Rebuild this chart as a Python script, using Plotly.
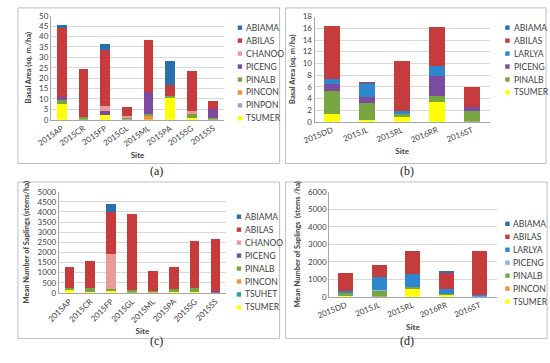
import plotly.graph_objects as go

W, H = 550, 363

# ---------------- (a) Basal area, sites 2015 ----------------
sites_a = ["2015AP", "2015CR", "2015FP", "2015GL", "2015ML", "2015PA", "2015SG", "2015SS"]
a_TSUMER = [7.7, 0, 2.2, 0, 0, 10.3, 0.8, 0]
a_PINPON = [0, 0, 0, 0, 0, 0, 0, 0]
a_PINCON = [0, 0, 0, 0, 1.8, 0, 0, 0]
a_PINALB = [1.6, 1.5, 0, 1.2, 1.2, 1.2, 1.8, 1.0]
a_PICENG = [1.4, 0, 2.0, 0, 10.5, 0, 0, 4.3]
a_CHANOO = [0, 0, 2.4, 0.5, 0, 0, 1.4, 0]
a_ABILAS = [33.8, 22.8, 26.9, 4.6, 25.0, 5.0, 19.5, 3.8]
a_ABIAMA = [0.8, 0, 3.0, 0, 0, 11.8, 0, 0]

# ---------------- (b) Basal area, other sites ----------------
sites_b = ["2015DD", "2015JL", "2015RL", "2016RR", "2016ST"]
b_TSUMER = [1.3, 0.3, 1.0, 3.3, 0]
b_PINALB = [3.9, 2.9, 0.3, 1.1, 1.8]
b_PICENG = [1.2, 1.1, 0, 3.4, 0.8]
b_LARLYA = [1.0, 2.3, 0.5, 1.8, 0]
b_ABILAS = [9.0, 0.15, 8.6, 6.6, 3.4]
b_ABIAMA = [0, 0.05, 0, 0, 0]

# ---------------- (c) Saplings, sites 2015 ----------------
c_TSUMER = [150, 30, 150, 0, 0, 40, 40, 0]
c_TSUHET = [0, 0, 0, 0, 0, 0, 0, 0]
c_PINCON = [0, 0, 0, 0, 80, 0, 0, 0]
c_PINALB = [100, 200, 30, 150, 20, 150, 200, 20]
c_PICENG = [0, 0, 0, 0, 0, 0, 0, 50]
c_CHANOO = [0, 0, 1720, 0, 0, 0, 0, 0]
c_ABILAS = [1030, 1320, 2100, 3750, 1000, 1080, 2330, 2610]
c_ABIAMA = [0, 0, 400, 0, 0, 0, 0, 0]

# ---------------- (d) Saplings, other sites ----------------
d_TSUMER = [30, 0, 480, 120, 0]
d_PINCON = [0, 0, 0, 0, 0]
d_PINALB = [250, 350, 50, 50, 0]
d_PICENG = [0, 50, 0, 0, 0]
d_LARLYA = [50, 700, 750, 280, 100]
d_ABILAS = [1020, 730, 1320, 930, 2520]
d_ABIAMA = [0, 0, 0, 50, 0]

COL = {
    "ABIAMA": "#2A6FAF", "ABILAS": "#C63B3B", "CHANOO": "#E99A9A",
    "PICENG": "#7A4B9E", "PINALB": "#77A641", "PINCON": "#F39237",
    "PINPON": "#A99BD6", "TSUMER": "#FFFF00", "LARLYA": "#2D86CE",
    "TSUHET": "#1BA3A6",
}
PICENG_D = "#8DB4DE"

FONT = "Lato, 'Open Sans', sans-serif"
TXT = "#404040"

fig = go.Figure()


def px_x(p):
    return p / W


def px_y(p):
    return 1 - p / H


panels = [
    # key, sites, series (bottom-up), xdomain px, ydomain px, ymax, dtick, ytitle, tickangle,
    # legend (square x, text x, first row y)
    ("a", sites_a,
     [("TSUMER", a_TSUMER), ("PINPON", a_PINPON), ("PINCON", a_PINCON), ("PINALB", a_PINALB),
      ("PICENG", a_PICENG), ("CHANOO", a_CHANOO), ("ABILAS", a_ABILAS), ("ABIAMA", a_ABIAMA)],
     (37, 215), (118, 11), 50, 5, "Basal Area (sq. m./ha)", -35, (229, 235, 23.3)),
    ("b", sites_b,
     [("TSUMER", b_TSUMER), ("PINALB", b_PINALB), ("PICENG", b_PICENG), ("LARLYA", b_LARLYA),
      ("ABILAS", b_ABILAS), ("ABIAMA", b_ABIAMA)],
     (308, 488), (120, 12), 18, 2, "Basal Area (sq. m/ha)", -22, (504, 511, 23.3)),
    ("c", sites_a,
     [("TSUMER", c_TSUMER), ("TSUHET", c_TSUHET), ("PINCON", c_PINCON), ("PINALB", c_PINALB),
      ("PICENG", c_PICENG), ("CHANOO", c_CHANOO), ("ABILAS", c_ABILAS), ("ABIAMA", c_ABIAMA)],
     (45, 217), (296, 192), 5000, 500, "Mean Number of Saplings (stems/ha)", -45, (228, 234, 217.7)),
    ("d", sites_b,
     [("TSUMER", d_TSUMER), ("PINCON", d_PINCON), ("PINALB", d_PINALB), ("PICENG", d_PICENG),
      ("LARLYA", d_LARLYA), ("ABILAS", d_ABILAS), ("ABIAMA", d_ABIAMA)],
     (323, 495), (300, 192), 6000, 1000, "Mean Number of Saplings  (stems /ha)", -22, (504, 510, 225)),
]

ROW = 13.33
SQ = 4.5

layout = {}
shapes = []
annotations = []
for i, (key, sites, series, xd, yd, ymax, dtick, ytitle, tangle, leg) in enumerate(panels):
    n = i + 1
    xa = "x" if n == 1 else f"x{n}"
    ya = "y" if n == 1 else f"y{n}"
    for name, vals in series:
        color = COL[name]
        if key == "d" and name == "PICENG":
            color = PICENG_D
        fig.add_trace(go.Bar(
            x=sites, y=vals, name=name, xaxis=xa, yaxis=ya, showlegend=False,
            marker=dict(color=color, line=dict(width=0)),
        ))
    # legend drawn as squares + text, top entry = last stacked series
    sqx, tx, y0 = leg
    for k, (name, _vals) in enumerate(reversed(series)):
        color = COL[name]
        if key == "d" and name == "PICENG":
            color = PICENG_D
        yy = y0 + k * ROW
        shapes.append(dict(type="rect", xref="paper", yref="paper",
                           x0=px_x(sqx), x1=px_x(sqx + SQ),
                           y0=px_y(yy + SQ / 2), y1=px_y(yy - SQ / 2),
                           line=dict(width=0), fillcolor=color))
        annotations.append(dict(text=name, x=px_x(tx), y=px_y(yy), xref="paper", yref="paper",
                                xanchor="left", yanchor="middle", showarrow=False,
                                font=dict(size=8.5, color=TXT, family=FONT)))
    xname = "xaxis" if n == 1 else f"xaxis{n}"
    yname = "yaxis" if n == 1 else f"yaxis{n}"
    layout[xname] = dict(
        domain=[px_x(xd[0]), px_x(xd[1])], anchor=ya,
        tickangle=tangle, tickfont=dict(size=8, color=TXT, family=FONT),
        title=dict(text="<b>Site</b>", font=dict(size=8, color=TXT, family=FONT), standoff=4),
        showline=True, linecolor="#A6A6A6", linewidth=1, ticks="", showgrid=False,
    )
    layout[yname] = dict(
        domain=[px_y(yd[0]), px_y(yd[1])], anchor=xa,
        range=[0, ymax], dtick=dtick,
        tickfont=dict(size=8, color=TXT, family=FONT),
        title=dict(text=f"<b>{ytitle}</b>", font=dict(size=7.5, color=TXT, family=FONT), standoff=6),
        showline=True, linecolor="#A6A6A6", linewidth=1,
        showgrid=True, gridcolor="#D9D9D9", gridwidth=1, zeroline=False, ticks="",
    )

boxes = [(3, 3, 272, 163), (278, 3, 546, 163), (3, 182, 272, 343), (278, 182, 547, 343)]
for (x0, y0, x1, y1) in boxes:
    shapes.append(dict(type="rect", xref="paper", yref="paper",
                       x0=px_x(x0), x1=px_x(x1), y0=px_y(y1), y1=px_y(y0),
                       line=dict(color="#BFBFBF", width=1), fillcolor="rgba(0,0,0,0)", layer="below"))

captions = [("(a)", 137, 171), ("(b)", 412, 171), ("(c)", 137, 355), ("(d)", 412, 355)]
for t, x, y in captions:
    annotations.append(dict(text=t, x=px_x(x), y=px_y(y), xref="paper", yref="paper",
                            showarrow=False,
                            font=dict(size=12, color="#222222", family="Liberation Serif, serif")))

fig.update_layout(
    width=W, height=H, margin=dict(l=0, r=0, t=0, b=0),
    barmode="stack", bargap=0.55, showlegend=False,
    paper_bgcolor="white", plot_bgcolor="white",
    shapes=shapes, annotations=annotations,
    font=dict(family=FONT, color=TXT),
    **layout,
)

fig.write_html(
    "out.html",
    config={"displayModeBar": False},
    post_script="document.body.style.margin='0';document.body.style.overflow='hidden';",
)
